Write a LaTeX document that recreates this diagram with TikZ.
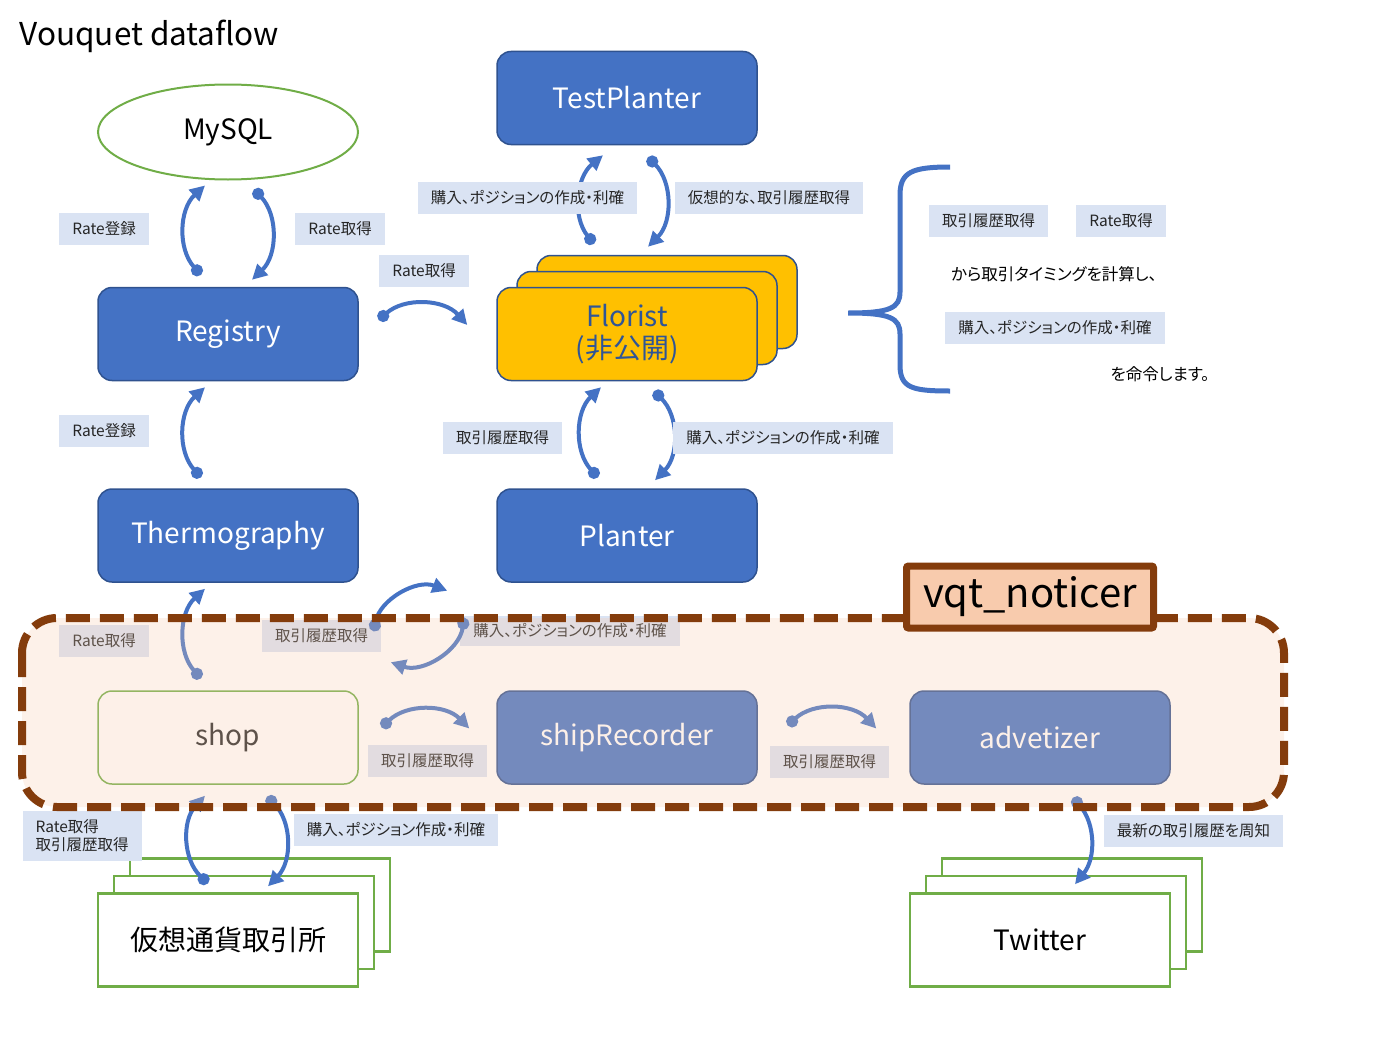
\documentclass[tikz,border=0pt]{standalone}
\usepackage{fontspec}
\setmainfont{Noto Sans CJK JP}
\newfontfamily\tagfamily{Noto Sans CJK JP}[RawFeature=+palt]
\usetikzlibrary{arrows.meta,shapes.geometric}

\definecolor{boxblue}{HTML}{4472C4}
\definecolor{edgeblue}{HTML}{2F528F}
\definecolor{gold}{HTML}{FFC000}
\definecolor{floristtext}{HTML}{2F5597}
\definecolor{leafgreen}{HTML}{70AD47}
\definecolor{tagblue}{HTML}{DAE3F3}
\definecolor{tagtext}{HTML}{262626}
\definecolor{peach}{HTML}{F8CBAD}
\definecolor{rust}{HTML}{843C0C}

\tikzset{
  box/.style={rectangle, rounded corners=14pt, draw=edgeblue, line width=1.5pt,
    fill=boxblue, text=white, minimum width=260pt, minimum height=93pt,
    inner sep=0pt, font=\fontsize{28}{32}\selectfont},
  florist/.style={box, fill=gold, text=floristtext, align=center},
  greenbox/.style={rectangle, draw=leafgreen, line width=2.5pt, fill=white,
    minimum width=260pt, minimum height=93pt, inner sep=0pt,
    font=\fontsize{28}{32}\selectfont},
  tag/.style={fill=tagblue, text=tagtext, minimum height=32pt, inner xsep=13pt,
    inner ysep=0pt, font=\tagfamily\fontsize{15.5}{18}\selectfont},
  flow/.style={draw=boxblue, line width=4pt,
    {Circle[length=12pt]}-{Triangle[length=15pt,width=15pt]}},
  note/.style={font=\tagfamily\fontsize{16.5}{19}\selectfont},
}

\begin{document}
\begin{tikzpicture}[x=1pt,y=-1pt]
    \useasboundingbox (0,0) rectangle (1400,1049);

    % Title
    \node[anchor=west, font=\fontsize{31.5}{36}\selectfont] (Title) at (16,36) {Vouquet dataflow};

    % Top rows
    \node[ellipse, draw=leafgreen, line width=2pt, minimum width=260pt,
        minimum height=95pt, font=\fontsize{28}{32}\selectfont] (MySQL) at (228,132) {MySQL};
    \node[box] (TestPlanter) at (627,98) {TestPlanter};
    \node[box] (Registry) at (228,334) {Registry};

    \foreach \name/\dx/\dy in {FloristBack/40/32, FloristMid/20/16}
    {
        \node[florist] (\name) at (627+\dx,334-\dy) {};
    }
    \node[florist] (Florist) at (627,334) {Florist\\(非公開)};

    \node[box] (Thermography) at (228,535.5) {Thermography};
    \node[box] (Planter) at (627,535.5) {Planter};

    % Inside vqt_noticer
    \node[box, fill=white, draw=leafgreen, text=tagtext] (Shop) at (228,737.5) {shop};
    \node[box] (ShipRecorder) at (627,737.5) {shipRecorder};
    \node[box] (Advetizer) at (1040,737.5) {advetizer};

    % Outside services
    \foreach \name/\dx/\dy in {ExchangeBack/32/35, ExchangeMid/16/17.5}
    {
        \node[greenbox] (\name) at (228+\dx,940-\dy) {};
    }
    \node[greenbox] (Exchange) at (228,940) {仮想通貨取引所};
    \foreach \name/\dx/\dy in {TwitterBack/32/35, TwitterMid/16/17.5}
    {
        \node[greenbox] (\name) at (1040+\dx,940-\dy) {};
    }
    \node[greenbox] (Twitter) at (1040,940) {Twitter};

    % Data flows
    \draw[flow] ([xshift=-27pt,yshift=12pt]Registry.north) to[bend left=45] ([xshift=-23pt,yshift=-5pt]MySQL.south);
    \draw[flow] ([xshift=26pt,yshift=-9pt]MySQL.south) to[bend left=45] ([xshift=24pt,yshift=7pt]Registry.north);
    \draw[flow] ([xshift=20pt,yshift=14pt]Registry.east) to[bend left=45] ([xshift=-29pt,yshift=9pt]Florist.west);
    \draw[flow] ([xshift=-73pt,yshift=11pt]FloristBack.north) to[bend left=45] ([xshift=-24pt,yshift=-10pt]TestPlanter.south);
    \draw[flow] ([xshift=21pt,yshift=-12pt]TestPlanter.south) to[bend left=45] ([xshift=-19pt,yshift=8pt]FloristBack.north);
    \draw[flow] ([xshift=-27pt,yshift=11pt]Thermography.north) to[bend left=45] ([xshift=-23pt,yshift=-6pt]Registry.south);
    \draw[flow] ([xshift=-29pt,yshift=11pt]Planter.north) to[bend left=45] ([xshift=-26pt,yshift=-6pt]Florist.south);
    \draw[flow] ([xshift=27pt,yshift=-10pt]Florist.south) to[bend left=45] ([xshift=28pt,yshift=8pt]Planter.north);
    \draw[flow] ([xshift=-27pt,yshift=12pt]Shop.north) to[bend left=45] ([xshift=-23pt,yshift=-6pt]Thermography.south);
    \draw[flow] ([xshift=23pt,yshift=10pt]Shop.east) to[bend left=45] ([xshift=-27pt,yshift=9pt]ShipRecorder.west);
    \draw[flow] ([xshift=30pt,yshift=12pt]ShipRecorder.east) to[bend left=45] ([xshift=-33pt,yshift=9pt]Advetizer.west);
    \draw[flow] ([xshift=-20pt,yshift=9pt]Exchange.north) to[bend left=45] ([xshift=-23pt,yshift=-11pt]Shop.south);
    \draw[flow] ([xshift=39pt,yshift=-12pt]Shop.south) to[bend left=45] ([xshift=40pt,yshift=6pt]Exchange.north);
    \draw[flow] ([xshift=33pt,yshift=-13pt]Advetizer.south) to[bend left=40] ([xshift=35pt,yshift=8pt]Twitter.north);

    % Labels
    \node[tag] (RegTagA) at (104,229) {Rate登録};
    \node[tag] (RateTagA) at (340,229) {Rate取得};
    \node[tag] (RateTagB) at (424,271) {Rate取得};
    \node[tag] (BuyTagA) at (527.5,198) {購入、ポジションの作成・利確};
    \node[tag] (VirtualTag) at (769,198) {仮想的な、取引履歴取得};
    \node[tag] (RegTagB) at (104,431) {Rate登録};
    \node[tag] (HistTagA) at (502.5,438) {取引履歴取得};
    \node[tag] (BuyTagB) at (783,438) {購入、ポジションの作成・利確};
    \node[tag] (RateTagC) at (104,641) {Rate取得};
    \node[tag] (HistTagB) at (321.5,636) {取引履歴取得};
    \node[tag, minimum height=30pt] (BuyTagC) at (570,631) {購入、ポジションの作成・利確};
    \node[tag] (HistTagC) at (427.5,761) {取引履歴取得};
    \node[tag] (HistTagD) at (829.5,762) {取引履歴取得};
    \node[tag, align=left, minimum height=50pt] (RateHistTag) at (82,836) {Rate取得\\取引履歴取得};
    \node[tag] (BuyTagD) at (396,830) {購入、ポジション作成・利確};
    \node[tag] (NotifyTag) at (1193.5,831) {最新の取引履歴を周知};

    % Shop <-> Planter, over their labels
    \draw[flow] ([xshift=15pt,yshift=59pt]Shop.north east) to[bend left=50] ([xshift=-49pt,yshift=-8pt]Planter.south west);
    \draw[flow] ([xshift=-32pt,yshift=-35pt]Planter.south west) to[bend left=50] ([xshift=32pt,yshift=28pt]Shop.north east);

    % Florist explanation
    \draw[boxblue, line width=5pt] (950,167) .. controls (912,167) and (900,172) .. (900,195)
        -- (900,292) .. controls (900,308) and (890,313) .. (848,313)
        .. controls (890,313) and (900,318) .. (900,334)
        -- (900,365) .. controls (900,388) and (912,391) .. (950,391);
    \node[tag] (HistTagE) at (988.5,221) {取引履歴取得};
    \node[tag] (RateTagD) at (1121,221) {Rate取得};
    \node[note] (CalcText) at (1054,274) {から取引タイミングを計算し、};
    \node[tag] (BuyTagE) at (1055,328) {購入、ポジションの作成・利確};
    \node[note] (OrderText) at (1160,374) {を命令します。};

    % vqt_noticer group
    \fill[peach, fill opacity=0.27, rounded corners=35pt] (22,618) rectangle (1284,807);
    \draw[rust, line width=8pt, dash pattern=on 24pt off 10pt, rounded corners=35pt] (22,618) rectangle (1284,807);
    \node[fill=peach, draw=rust, line width=7pt, rounded corners=2pt, minimum width=247pt,
        minimum height=62pt, inner sep=0pt, font=\fontsize{40}{44}\selectfont] (Noticer) at (1030,597) {vqt\_noticer};
\end{tikzpicture}
\end{document}
